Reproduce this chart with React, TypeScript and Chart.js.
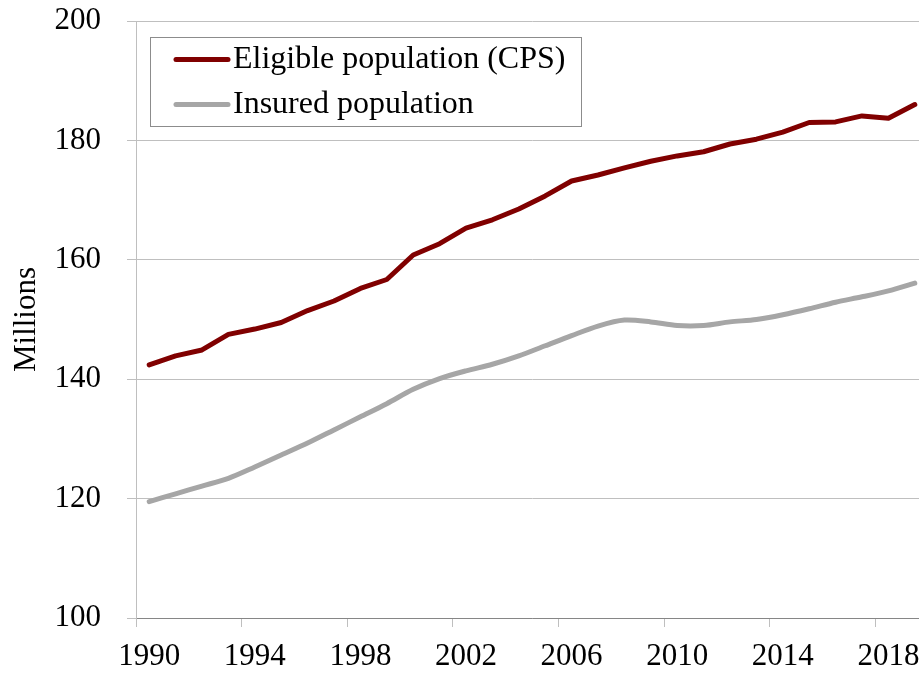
import React, { useEffect, useRef } from "react";
import { Chart, registerables } from "chart.js";

Chart.register(...registerables);

const years: string[] = [
  "1990", "1991", "1992", "1993", "1994", "1995", "1996", "1997", "1998", "1999",
  "2000", "2001", "2002", "2003", "2004", "2005", "2006", "2007", "2008", "2009",
  "2010", "2011", "2012", "2013", "2014", "2015", "2016", "2017", "2018", "2019",
];

const eligiblePopulation: number[] = [
  142.4, 143.9, 144.9, 147.5, 148.4, 149.5, 151.5, 153.1, 155.2, 156.7,
  160.8, 162.7, 165.3, 166.7, 168.5, 170.7, 173.2, 174.2, 175.4, 176.5,
  177.4, 178.1, 179.4, 180.2, 181.4, 183.0, 183.1, 184.1, 183.7, 186.0,
];

const insuredPopulation: number[] = [
  119.5, 120.8, 122.1, 123.4, 125.3, 127.3, 129.3, 131.5, 133.7, 135.9,
  138.3, 140.1, 141.4, 142.5, 143.9, 145.6, 147.3, 148.9, 149.9, 149.6,
  149.0, 149.0, 149.6, 150.0, 150.8, 151.8, 152.9, 153.8, 154.8, 156.1,
];

const seriesLabels: string[] = ["Eligible population (CPS)", "Insured population"];
const seriesColors: string[] = ["#800000", "#A6A6A6"];

const yTicks: number[] = [100, 120, 140, 160, 180, 200];
const yTitle = "Millions";

const FONT = "'Liberation Serif', 'Times New Roman', serif";

const boxLegend = {
  id: "boxLegend",
  afterDraw(chart: any) {
    const ctx = chart.ctx as CanvasRenderingContext2D;
    ctx.save();
    ctx.fillStyle = "#ffffff";
    ctx.fillRect(150.5, 37.5, 431, 89);
    ctx.strokeStyle = "#8C8C8C";
    ctx.lineWidth = 1;
    ctx.strokeRect(150.5, 37.5, 431, 89);
    chart.data.datasets.forEach((ds: any, i: number) => {
      const y = 59.5 + i * 45;
      ctx.beginPath();
      ctx.strokeStyle = ds.borderColor;
      ctx.lineWidth = 5;
      ctx.lineCap = "round";
      ctx.moveTo(176, y);
      ctx.lineTo(228, y);
      ctx.stroke();
      ctx.fillStyle = "#000000";
      ctx.font = `32px ${FONT}`;
      ctx.textBaseline = "middle";
      ctx.textAlign = "left";
      ctx.fillText(ds.label, 233, y);
    });
    ctx.restore();
  },
};

export default function App() {
  const canvasRef = useRef<HTMLCanvasElement | null>(null);

  useEffect(() => {
    if (!canvasRef.current) return;
    const chart = new Chart(canvasRef.current, {
      type: "line",
      data: {
        labels: years,
        datasets: [
          {
            label: seriesLabels[0],
            data: eligiblePopulation,
            borderColor: seriesColors[0],
            backgroundColor: seriesColors[0],
            borderWidth: 5,
            pointRadius: 0,
            tension: 0,
            borderJoinStyle: "round",
            borderCapStyle: "round",
          },
          {
            label: seriesLabels[1],
            data: insuredPopulation,
            borderColor: seriesColors[1],
            backgroundColor: seriesColors[1],
            borderWidth: 5,
            pointRadius: 0,
            tension: 0.3,
            borderJoinStyle: "round",
            borderCapStyle: "round",
          },
        ],
      },
      options: {
        animation: false,
        responsive: false,
        devicePixelRatio: 1,
        layout: { padding: { top: 21, left: 0, right: 12, bottom: 0 } },
        plugins: {
          legend: { display: false },
          tooltip: { enabled: false },
        },
        scales: {
          x: {
            type: "category",
            offset: true,
            grid: {
              offset: true,
              drawOnChartArea: false,
              tickLength: 9,
              tickColor: (ctx: any) => (ctx.index % 4 === 0 ? "#BFBFBF" : "rgba(0,0,0,0)"),
            },
            border: { color: "#868686", width: 1 },
            ticks: {
              autoSkip: false,
              maxRotation: 0,
              minRotation: 0,
              color: "#000000",
              font: { family: FONT, size: 31 },
              padding: 11,
              callback: (_v: any, idx: number) => (idx % 4 === 0 ? years[idx] : ""),
            },
            afterFit: (scale: any) => {
              scale.height = 55;
              scale.paddingLeft = 0;
              scale.paddingRight = 0;
            },
          },
          y: {
            min: yTicks[0],
            max: yTicks[yTicks.length - 1],
            afterBuildTicks: (scale: any) => {
              scale.ticks = yTicks.map((v) => ({ value: v }));
            },
            grid: {
              color: "#BFBFBF",
              lineWidth: 1,
              tickLength: 9,
            },
            border: { color: "#BFBFBF", width: 1 },
            ticks: {
              color: "#000000",
              font: { family: FONT, size: 31 },
              padding: 26,
            },
            title: {
              display: true,
              text: yTitle,
              color: "#000000",
              font: { family: FONT, size: 31 },
              padding: { top: 8, bottom: 0 },
            },
            afterFit: (scale: any) => {
              scale.width = 136;
              scale.paddingTop = 0;
              scale.paddingBottom = 0;
            },
          },
        },
      },
      plugins: [boxLegend],
    });
    return () => chart.destroy();
  }, []);

  return (
    <div
      style={{
        position: "fixed",
        left: 0,
        top: 0,
        width: 919,
        height: 673,
        overflow: "hidden",
        background: "#ffffff",
      }}
    >
      <canvas ref={canvasRef} width={940} height={673} style={{ display: "block" }} />
    </div>
  );
}
